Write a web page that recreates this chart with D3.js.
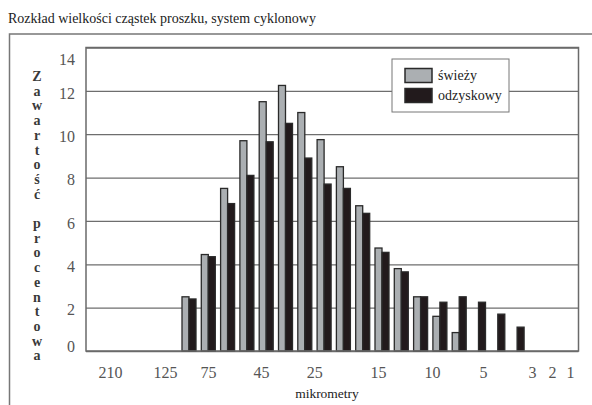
<!DOCTYPE html>
<html>
<head>
<meta charset="utf-8">
<script src="https://cdn.jsdelivr.net/npm/d3@7"></script>
<style>
  body { margin: 0; background: #fff; }
  text { font-family: "Liberation Serif", "Times New Roman", serif; }
</style>
</head>
<body>
<div id="canvas"></div>
<script>
"use strict"

let svgWidth = 592
let svgHeight = 405

let plotLeft = 86
let plotRight = 578.5
let plotTop = 47.5
let plotBottom = 351

// bins, left to right (coarse to fine)
let bins = d3.range(18)
let swiezy = [2.5, 4.45, 7.5, 9.7, 11.5, 12.25, 11.0, 9.75, 8.5, 6.7, 4.75, 3.8, 2.5, 1.6, 0.85, 0, 0, 0]
let odzyskowy = [2.4, 4.35, 6.8, 8.1, 9.65, 10.5, 8.9, 7.7, 7.5, 6.35, 4.55, 3.65, 2.5, 2.25, 2.5, 2.25, 1.7, 1.1]

// micrometre labels and where they fall along the bin axis
let xTickLabels = [210, 125, 75, 45, 25, 15, 10, 5, 3, 2, 1]
let xTickBins = [-4.09, -1.24, 0.98, 3.73, 6.49, 9.79, 12.59, 15.23, 17.77, 18.81, 19.74]
let yTicks = [0, 2, 4, 6, 8, 10, 12, 14]

let yLabel = "Zawartość procentowa"

let svg = d3.select("#canvas")
    .append("svg")
    .attr("width", svgWidth)
    .attr("height", svgHeight)

let xScale = d3.scaleLinear()
    .domain([(plotLeft - 189) / 19.3, (plotRight - 189) / 19.3])
    .range([plotLeft, plotRight])

let yScale = d3.scaleLinear()
    .domain([0, 14])
    .range([plotBottom, plotTop])

let barWidth = 7

// title
svg.append("text")
    .attr("x", 8)
    .attr("y", 23)
    .attr("font-size", 14)
    .attr("fill", "#222")
    .text("Rozkład wielkości cząstek proszku, system cyklonowy")

// outer frame
svg.append("rect")
    .attr("x", 9.5)
    .attr("y", 34)
    .attr("width", 620)
    .attr("height", 420)
    .attr("fill", "none")
    .attr("stroke", "#777")
    .attr("stroke-width", 1.5)

// gridlines
svg.append("g")
    .attr("class", "grid")
    .attr("transform", `translate(${plotLeft},0)`)
    .call(d3.axisLeft(yScale).tickValues(yTicks).tickSize(-(plotRight - plotLeft)).tickFormat(""))
    .call(g => g.select(".domain").remove())
    .selectAll("line")
    .attr("stroke", "#6e6e6e")
    .attr("stroke-width", 1.3)

// y tick labels
let yAxis = svg.append("g")
    .attr("transform", `translate(${plotLeft - 11},0)`)
    .call(d3.axisLeft(yScale).tickValues(yTicks).tickSize(0).tickPadding(0))
yAxis.select(".domain").remove()
yAxis.selectAll("text")
    .attr("font-family", "'Liberation Serif', serif")
    .attr("font-size", 16)
    .attr("fill", "#555")
    .attr("dy", function (d) {
        if (d == 14) return "1.05em"
        if (d == 0) return "0.0em"
        return "0.45em"
    })

// bars
svg.selectAll("rect.swiezy")
    .data(bins.filter(i => swiezy[i] > 0))
    .join("rect")
    .classed("swiezy", true)
    .attr("x", i => xScale(i) - barWidth)
    .attr("y", i => yScale(swiezy[i]))
    .attr("width", barWidth)
    .attr("height", i => yScale(0) - yScale(swiezy[i]))
    .attr("fill", "#abafb2")
    .attr("stroke", "#2a2a2a")
    .attr("stroke-width", 1.3)

svg.selectAll("rect.odzyskowy")
    .data(bins)
    .join("rect")
    .classed("odzyskowy", true)
    .attr("x", i => xScale(i))
    .attr("y", i => yScale(odzyskowy[i]))
    .attr("width", barWidth)
    .attr("height", i => yScale(0) - yScale(odzyskowy[i]))
    .attr("fill", "#221a1c")
    .attr("stroke", "#2a2a2a")
    .attr("stroke-width", 1.3)

// plot border
svg.append("rect")
    .attr("x", plotLeft)
    .attr("y", plotTop)
    .attr("width", plotRight - plotLeft)
    .attr("height", plotBottom - plotTop)
    .attr("fill", "none")
    .attr("stroke", "#6a6a6a")
    .attr("stroke-width", 1.5)

// x tick labels
let xAxis = svg.append("g")
    .attr("transform", `translate(0,${plotBottom + 16})`)
    .call(d3.axisBottom(xScale).tickValues(xTickBins).tickSize(0).tickPadding(0)
        .tickFormat((d, i) => xTickLabels[i]))
xAxis.select(".domain").remove()
xAxis.selectAll("text")
    .attr("font-family", "'Liberation Serif', serif")
    .attr("font-size", 16)
    .attr("fill", "#555")

svg.append("text")
    .attr("x", 327)
    .attr("y", 398)
    .attr("text-anchor", "middle")
    .attr("font-size", 13.5)
    .attr("fill", "#222")
    .text("mikrometry")

// vertical y label, one letter per line
let yText = svg.append("text")
    .attr("text-anchor", "middle")
    .attr("font-size", 14)
    .attr("font-weight", "bold")
    .attr("fill", "#3a3a3a")
yText.selectAll("tspan")
    .data(yLabel.split(""))
    .join("tspan")
    .attr("x", 37)
    .attr("y", (c, i) => 81 + i * 14.7)
    .text(c => c)

// legend
let legend = svg.append("g")
legend.append("rect")
    .attr("x", 392)
    .attr("y", 59)
    .attr("width", 117)
    .attr("height", 53)
    .attr("fill", "#fff")
    .attr("stroke", "#777")
    .attr("stroke-width", 1)

let legendItems = [["świeży", "#abafb2"], ["odzyskowy", "#221a1c"]]
legendItems.forEach(function (item, i) {
    legend.append("rect")
        .attr("x", 405)
        .attr("y", 68.5 + i * 20)
        .attr("width", 27)
        .attr("height", 14)
        .attr("fill", item[1])
        .attr("stroke", "#2a2a2a")
        .attr("stroke-width", 1.5)
    legend.append("text")
        .attr("x", 438)
        .attr("y", 80 + i * 20)
        .attr("font-size", 14)
        .attr("fill", "#222")
        .text(item[0])
})
</script>
</body>
</html>
